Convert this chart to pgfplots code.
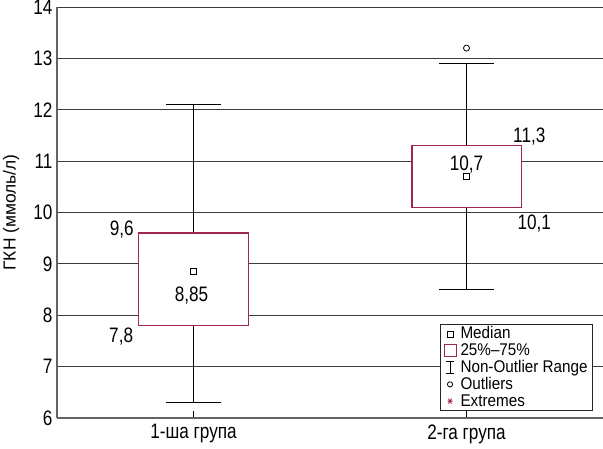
\documentclass[border=0pt]{standalone}
\usepackage{fontspec}
\setmainfont[FakeStretch=0.82]{Liberation Sans}
\newfontfamily\legfont[FakeStretch=0.9]{Liberation Sans}
\newfontfamily\labfont{Liberation Sans}
\usepackage{pgfplots}
\pgfplotsset{compat=1.18}
\usetikzlibrary{calc}
\definecolor{boxred}{RGB}{160,40,80}
\definecolor{gridc}{RGB}{60,60,60}
\definecolor{axc}{RGB}{100,100,100}
\begin{document}
\begin{tikzpicture}
\begin{axis}[
  scale only axis, width=546bp, height=411bp,
  xmin=0.5, xmax=2.5, ymin=6, ymax=14,
  axis x line*=bottom, axis y line*=left,
  axis line style={axc, line width=1.5bp},
  xtick={1,2}, xticklabels={1-ша група, 2-га група},
  ytick={6,7,...,14},
  ymajorgrids, grid style={gridc, line width=0.9bp},
  tick align=inside, major tick length=7bp,
  xtick style={black, line width=0.8bp},
  ytick style={draw=none},
  tick label style={font=\fontsize{21}{23}\selectfont},
  /pgf/number format/assume math mode=true,
  yticklabel style={xshift=-1bp},
  xticklabel style={yshift=-3bp},
  ylabel={ГКН (ммоль/л)},
  ylabel style={font=\labfont\fontsize{17.5}{18}\selectfont, at={(axis description cs:0,0.5)}, anchor=center, yshift=46bp},
  legend style={at={(rel axis cs:0.7015,0.017)}, anchor=south west, draw=black!85, line width=1bp, fill=white,
    inner xsep=3bp, inner ysep=1bp, row sep=0pt, column sep=2bp,
    font=\legfont\fontsize{17}{17}\selectfont,
    cells={inner sep=0.6bp, text height=11.3bp, text depth=3bp}},
  legend cell align=left,
]
% whiskers (lower and upper) with caps
\addplot[forget plot, black, line width=0.9bp] coordinates {(1,6.3) (1,7.8)};
\addplot[forget plot, black, line width=0.9bp] coordinates {(1,9.6) (1,12.1)};
\addplot[forget plot, black, line width=0.9bp] coordinates {(0.9,6.3) (1.1,6.3)};
\addplot[forget plot, black, line width=0.9bp] coordinates {(0.9,12.1) (1.1,12.1)};
\addplot[forget plot, black, line width=0.9bp] coordinates {(2,8.5) (2,10.1)};
\addplot[forget plot, black, line width=0.9bp] coordinates {(2,11.3) (2,12.9)};
\addplot[forget plot, black, line width=0.9bp] coordinates {(1.9,8.5) (2.1,8.5)};
\addplot[forget plot, black, line width=0.9bp] coordinates {(1.9,12.9) (2.1,12.9)};
% boxes (25%-75%)
\addplot[forget plot, draw=boxred, fill=white, line width=1.2bp] coordinates {(0.8,7.8) (1.2,7.8) (1.2,9.6) (0.8,9.6)} -- cycle;
\addplot[forget plot, draw=boxred, fill=white, line width=1.2bp] coordinates {(1.8,10.1) (2.2,10.1) (2.2,11.3) (1.8,11.3)} -- cycle;
% medians
\addplot[forget plot, only marks, mark=square, mark size=3bp, black, mark options={line width=0.8bp}] coordinates {(1,8.85) (2,10.7)};
% outliers
\addplot[forget plot, only marks, mark=o, mark size=3bp, black, mark options={line width=0.8bp}] coordinates {(2,13.2)};

\addlegendimage{legend image code/.code={\draw[black, line width=0.8bp] (3bp,-3bp) rectangle (9bp,3bp);}}
\addlegendentry{Median}
\addlegendimage{legend image code/.code={\draw[boxred, line width=1bp] (0bp,-6bp) rectangle (12bp,6bp);}}
\addlegendentry{25\%–75\%}
\addlegendimage{legend image code/.code={\draw[black, line width=0.8bp] (6bp,-6bp) -- (6bp,6bp) (2bp,6bp) -- (10bp,6bp) (2bp,-6bp) -- (10bp,-6bp);}}
\addlegendentry{Non-Outlier Range}
\addlegendimage{legend image code/.code={\draw[black, line width=0.8bp] (6bp,0bp) circle (2.6bp);}}
\addlegendentry{Outliers}
\addlegendimage{legend image code/.code={\draw[boxred, line width=0.9bp] (3.5bp,0bp) -- (8.5bp,0bp) (4.5bp,-2.5bp) -- (7.5bp,2.5bp) (4.5bp,2.5bp) -- (7.5bp,-2.5bp);}}
\addlegendentry{Extremes}

\begin{scope}[every node/.style={font=\fontsize{21}{23}\selectfont, anchor=base, inner sep=0pt}]
\node at (0.737,9.56) {9,6};
\node at (0.735,7.46) {7,8};
\node at (0.993,8.26) {8,85};
\node at (2.0,10.82) {10,7};
\node at (2.23,11.37) {11,3};
\node at (2.248,9.66) {10,1};
\end{scope}
\end{axis}
\pgfresetboundingbox
\useasboundingbox ($(current axis.south west)+(-57bp,-31bp)$) rectangle ($(current axis.north east)+(0bp,7bp)$);
\end{tikzpicture}
\end{document}
